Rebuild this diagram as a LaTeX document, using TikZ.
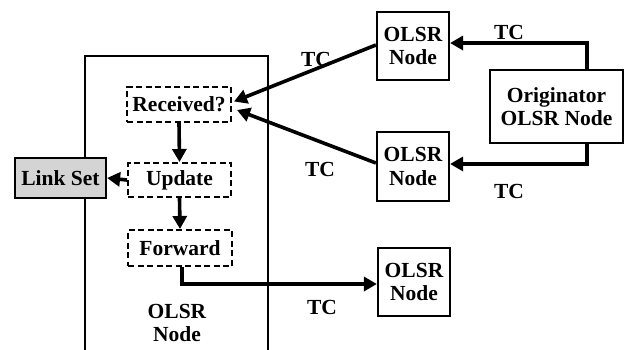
\documentclass[tikz,border=0pt]{standalone}
\usepackage{fontspec}
\setmainfont{Liberation Serif}
\usetikzlibrary{arrows.meta,calc}
\begin{document}
\begin{tikzpicture}[x=1pt,y=-1pt,
  font=\fontsize{21.5}{23.5}\selectfont\bfseries,
  solidbox/.style={draw,line width=2.2pt,align=center,inner sep=0pt},
  dashbox/.style={draw,line width=2pt,dash pattern=on 6pt off 3.5pt,align=center,inner sep=0pt},
  conn/.style={line width=3.6pt,-{Triangle[length=13pt,width=14pt]}},
  lbl/.style={inner sep=0pt}]
\useasboundingbox (0,0) rectangle (624,349);
% outer OLSR node box (open at bottom)
\draw[line width=2pt] (85,352) -- (85,56) -- (268,56) -- (268,352);
\node[lbl,align=center] (bigl) at (177,323) {OLSR\\Node};
% inner steps
\node[dashbox,minimum width=104pt,minimum height=35pt] (recv) at (179,104.5) {Received?};
\node[dashbox,minimum width=103pt,minimum height=34pt] (upd) at (179.5,180) {Update};
\node[dashbox,minimum width=104pt,minimum height=36pt] (fwd) at (180,248) {Forward};
\node[solidbox,fill=black!17,minimum width=91pt,minimum height=40pt] (link) at (60.5,178) {Link Set};
% other nodes
\node[solidbox,minimum width=72pt,minimum height=68pt] (n1) at (413,46) {OLSR\\Node};
\node[solidbox,minimum width=72pt,minimum height=69pt] (n2) at (413,166.5) {OLSR\\Node};
\node[solidbox,minimum width=72pt,minimum height=68pt] (n3) at (414,282) {OLSR\\Node};
\node[solidbox,minimum width=133pt,minimum height=73pt] (orig) at (556.5,106.5) {Originator\\OLSR Node};
% connectors
\draw[conn] (recv.south) -- (upd.north);
\draw[conn] (upd.south) -- (fwd.north);
\draw[conn] (upd.west) -- (link.east);
\draw[conn] ([yshift=1pt]n1.west) -- ([xshift=2pt,yshift=3pt]recv.east);
\draw[conn] ([yshift=3.5pt]n2.west) -- ([xshift=5pt,yshift=-5.5pt]recv.east);
\draw[conn] ([xshift=30.5pt]orig.north) |- ([yshift=3pt]n1.east);
\draw[conn] ([xshift=30.5pt]orig.south) |- ([yshift=2.5pt]n2.east);
\draw[conn] ([xshift=2pt]fwd.south) |- ([yshift=-2pt]n3.west);
% labels
\node[lbl] (t1) at (316,59) {TC};
\node[lbl] (t2) at (320,169) {TC};
\node[lbl] (t3) at (509,32) {TC};
\node[lbl] (t4) at (509,191) {TC};
\node[lbl] (t5) at (322,307) {TC};
\end{tikzpicture}
\end{document}
